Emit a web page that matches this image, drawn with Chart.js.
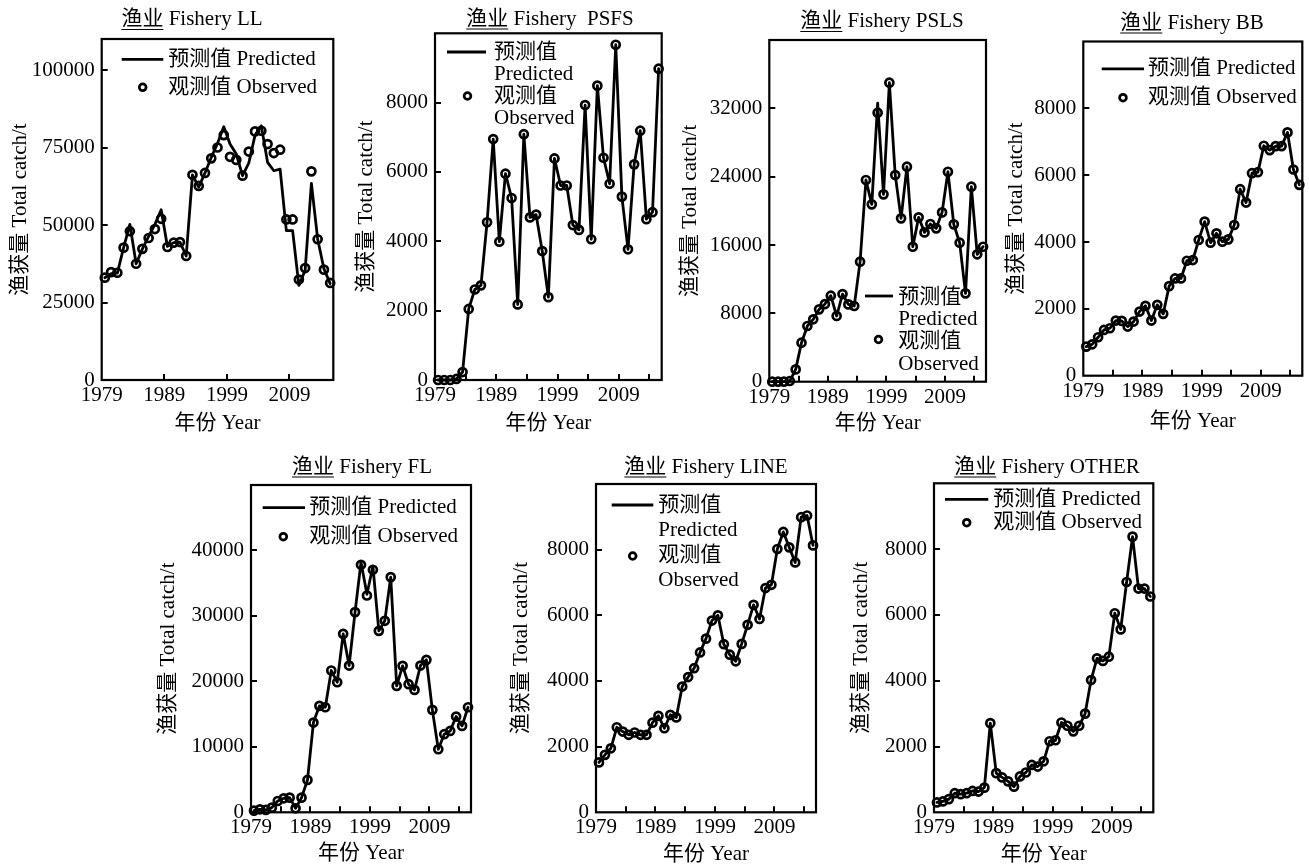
<!DOCTYPE html>
<html>
<head>
<meta charset="utf-8">
<script src="https://cdn.jsdelivr.net/npm/chart.js@4.4.1/dist/chart.umd.min.js"></script>
<style>
  html, body { margin: 0; padding: 0; background: #fff; }
  body { width: 1309px; height: 867px; position: relative; overflow: hidden; }
  .panel { position: absolute; }
  canvas { display: block; }
</style>
</head>
<body>
<script>
// ---------------- DATA ----------------
const years = [1979,1980,1981,1982,1983,1984,1985,1986,1987,1988,1989,1990,1991,1992,1993,1994,1995,1996,1997,1998,1999,2000,2001,2002,2003,2004,2005,2006,2007,2008,2009,2010,2011,2012,2013,2014,2015];
const xTickLabels = ['1979','1989','1999','2009'];
const xMinorTickYears = [1984,1994,2004,2014];

const llObserved  = [33000,34800,34600,42700,48000,37500,42300,45800,48700,52000,42900,44300,44500,40000,66200,62600,66800,71500,75000,79000,72000,71000,65900,73700,80200,80400,76100,73200,74300,51800,51800,32400,36100,67300,45400,35600,31300];
const llPredicted = [33000,34300,34500,42700,50200,37500,42300,46300,50200,54900,43100,44300,44500,40000,66200,62200,66800,71800,76300,81700,76100,72900,65900,70000,79000,82000,70200,67500,68000,48200,48200,30500,35400,63400,45500,35900,31100];
const llYTicks = [0,25000,50000,75000,100000];
const llYMax = 110000;

const psfsObserved  = [0,0,0,30,230,2050,2610,2730,4550,6950,3990,5950,5250,2180,7090,4690,4770,3720,2390,6390,5610,5610,4470,4330,7930,4060,8490,6410,5660,9670,5290,3770,6220,7190,4640,4840,8980];
const psfsPredicted = [0,0,0,30,230,2050,2610,2730,4550,6950,3990,5950,5250,2180,7090,4690,4770,3720,2390,6390,5610,5610,4470,4330,7930,4060,8490,6410,5660,9670,5290,3770,6220,7190,4640,4840,8980];
const psfsYTicks = [0,2000,4000,6000,8000];
const psfsYMax = 10000;

const pslsObserved  = [0,0,0,80,1440,4570,6520,7300,8470,9090,10070,7690,10260,9050,8860,14050,23610,20760,31490,21930,35000,24190,19120,25170,15800,19240,17480,18460,17950,19820,24580,18420,16270,10340,22830,14910,15800];
const pslsPredicted = [0,0,0,80,1440,4570,6520,7300,8470,9090,10070,7690,10260,9050,8860,14050,23610,20760,32600,21930,35000,24190,19120,25170,15800,19240,17480,18460,17950,19820,24580,18420,16270,10340,22830,14910,15800];
const pslsYTicks = [0,8000,16000,24000,32000];
const pslsYMax = 40000;

const bbObserved  = [870,940,1150,1370,1420,1650,1640,1470,1620,1920,2090,1650,2120,1850,2680,2910,2910,3440,3460,4060,4610,3980,4260,4010,4080,4510,5580,5180,6060,6090,6880,6750,6870,6870,7280,6170,5710];
const bbPredicted = [870,940,1150,1370,1420,1650,1640,1470,1620,1920,2090,1650,2120,1850,2680,2910,2910,3440,3460,4060,4610,3980,4260,4010,4080,4510,5580,5180,6060,6090,6880,6750,6870,6870,7280,6170,5710];
const bbYTicks = [0,2000,4000,6000,8000];
const bbYMax = 10000;

const flObserved  = [260,460,360,710,1730,2140,2240,610,2240,4940,13710,16260,16050,21660,19870,27260,22420,30580,37810,33120,37050,27720,29250,35930,19310,22370,19570,18700,22420,23290,15650,9630,11930,12430,14630,13200,16050];
const flPredicted = [260,460,360,710,1730,2140,2240,610,2240,4940,13710,16260,16050,21660,19870,27260,22420,30580,38200,33300,37600,27720,29250,35930,19310,22370,19570,18700,22420,23290,15650,9630,11930,12430,14630,13200,16050];
const flYTicks = [0,10000,20000,30000,40000];
const flYMax = 50000;

const lineObserved  = [1520,1750,1950,2590,2460,2360,2430,2360,2360,2730,2940,2560,2970,2890,3830,4120,4390,4870,5290,5840,6000,5120,4800,4600,5130,5710,6320,5890,6830,6930,8020,8540,8070,7610,8990,9040,8130];
const linePredicted = [1520,1750,1950,2590,2460,2360,2430,2360,2360,2730,2940,2560,2970,2890,3830,4120,4390,4870,5290,5840,6000,5120,4800,4600,5130,5710,6320,5890,6830,6930,8020,8540,8070,7610,8990,9040,8130];
const lineYTicks = [0,2000,4000,6000,8000];
const lineYMax = 10000;

const otherObserved  = [300,330,400,580,550,580,650,630,750,2710,1190,1060,940,780,1090,1210,1440,1390,1550,2160,2190,2730,2630,2460,2630,3000,4020,4680,4600,4730,6050,5560,7000,8380,6800,6800,6560];
const otherPredicted = [300,330,400,580,550,580,650,630,750,2710,1190,1060,940,780,1090,1210,1440,1390,1550,2160,2190,2730,2630,2460,2630,3000,4020,4680,4600,4730,6050,5560,7000,8380,6800,6800,6560];
const otherYTicks = [0,2000,4000,6000,8000];
const otherYMax = 10000;

const predictedLabel = '预测值 Predicted';
const observedLabel = '观测值 Observed';
const yAxisTitle = '渔获量 Total catch/t';
const xAxisTitle = '年份 Year';

// ---------------- LAYOUT ----------------
const FONT = '"Liberation Serif", "Times New Roman", "Noto Sans CJK SC", serif';
const FS = 21;
const LH = FS * 1.2;

const panels = [
  { title: ['渔业', ' Fishery LL'], obs: llObserved, pred: llPredicted, yTicks: llYTicks, yMax: llYMax, minor: false,
    box: {l: 0, t: 0, w: 340, h: 440}, plot: {l: 101.7, r: 333.3, t: 39, b: 380},
    titleXY: [192, 19.5], yTitleX: 20, xTitleY: 423,
    legend: {line: [121.7, 163.3, 59.3], marker: [142.7, 87.3], textX: 168.3,
             pred: [[predictedLabel, 59.3]], obs: [[observedLabel, 87.3]]} },
  { title: ['渔业', ' Fishery  PSFS'], obs: psfsObserved, pred: psfsPredicted, yTicks: psfsYTicks, yMax: psfsYMax, minor: true,
    box: {l: 340, t: 0, w: 330, h: 440}, plot: {l: 435, r: 661.7, t: 33.3, b: 380},
    titleXY: [550, 19], yTitleX: 366.7, xTitleY: 423,
    legend: {line: [447, 486, 52], marker: [467.5, 96], textX: 494,
             pred: [['预测值', 52], ['Predicted', 74]], obs: [['观测值', 96.5], ['Observed', 118.5]]} },
  { title: ['渔业', ' Fishery PSLS'], obs: pslsObserved, pred: pslsPredicted, yTicks: pslsYTicks, yMax: pslsYMax, minor: true,
    box: {l: 670, t: 0, w: 325, h: 440}, plot: {l: 769.3, r: 986, t: 40, b: 381.7},
    titleXY: [882, 21.5], yTitleX: 690.7, xTitleY: 423,
    legend: {line: [865, 893, 296], marker: [878.5, 339.5], textX: 898.3,
             pred: [['预测值', 297], ['Predicted', 319.5]], obs: [['观测值', 341.5], ['Observed', 364]]} },
  { title: ['渔业', ' Fishery BB'], obs: bbObserved, pred: bbPredicted, yTicks: bbYTicks, yMax: bbYMax, minor: true,
    box: {l: 995, t: 0, w: 314, h: 440}, plot: {l: 1083.3, r: 1304.3, t: 41.5, b: 375.7},
    titleXY: [1192, 23], yTitleX: 1016.7, xTitleY: 421.7,
    legend: {line: [1101.7, 1144, 68.8], marker: [1123, 97.7], textX: 1148,
             pred: [[predictedLabel, 68.8]], obs: [[observedLabel, 97.7]]} },
  { title: ['渔业', ' Fishery FL'], obs: flObserved, pred: flPredicted, yTicks: flYTicks, yMax: flYMax, minor: true,
    box: {l: 150, t: 440, w: 340, h: 427}, plot: {l: 251, r: 471, t: 485, b: 812.3},
    titleXY: [362, 467], yTitleX: 168.3, xTitleY: 853.3,
    legend: {line: [262.7, 305, 507.7], marker: [283.3, 536.7], textX: 309.3,
             pred: [[predictedLabel, 507.7]], obs: [[observedLabel, 536.7]]} },
  { title: ['渔业', ' Fishery LINE'], obs: lineObserved, pred: linePredicted, yTicks: lineYTicks, yMax: lineYMax, minor: true,
    box: {l: 490, t: 440, w: 340, h: 427}, plot: {l: 596, r: 816, t: 484, b: 812.3},
    titleXY: [706, 467], yTitleX: 521.7, xTitleY: 855,
    legend: {line: [611.7, 653.3, 505], marker: [632.7, 556], textX: 658.3,
             pred: [['预测值', 505], ['Predicted', 530]], obs: [['观测值', 555], ['Observed', 580]]} },
  { title: ['渔业', ' Fishery OTHER'], obs: otherObserved, pred: otherPredicted, yTicks: otherYTicks, yMax: otherYMax, minor: true,
    box: {l: 830, t: 440, w: 340, h: 427}, plot: {l: 934, r: 1153.3, t: 483.3, b: 812.3},
    titleXY: [1047, 467], yTitleX: 861.7, xTitleY: 855,
    legend: {line: [945, 988.3, 499.3], marker: [966.7, 522.7], textX: 993.3,
             pred: [[predictedLabel, 499.3]], obs: [[observedLabel, 522.7]]} }
];

Chart.defaults.font.family = FONT;
Chart.defaults.font.size = FS;
Chart.defaults.color = '#000';

const decorPlugin = {
  id: 'decor',
  afterDraw(chart, args, opts) {
    const p = opts.panel;
    const ctx = chart.ctx;
    const ca = chart.chartArea;
    const xs = chart.scales.x, ys = chart.scales.y;
    const ox = p.box.l, oy = p.box.t;
    ctx.save();
    ctx.strokeStyle = '#000';
    ctx.fillStyle = '#000';
    // inward tick marks
    ctx.lineWidth = 2;
    const xt = xTickLabels.map(Number).concat(p.minor ? xMinorTickYears : []);
    xt.forEach(v => {
      const px = Math.round(xs.getPixelForValue(v));
      if (px <= ca.left + 1) return;
      ctx.beginPath(); ctx.moveTo(px, ca.bottom); ctx.lineTo(px, ca.bottom - 6); ctx.stroke();
    });
    p.yTicks.forEach(v => {
      const py = Math.round(ys.getPixelForValue(v));
      if (py >= ca.bottom - 1) return;
      ctx.beginPath(); ctx.moveTo(ca.left, py); ctx.lineTo(ca.left + 6, py); ctx.stroke();
    });
    // frame
    ctx.lineWidth = 2.2;
    ctx.strokeRect(ca.left, ca.top, ca.right - ca.left, ca.bottom - ca.top);
    // title with underlined Chinese part
    ctx.font = FS + 'px ' + FONT;
    ctx.textBaseline = 'middle';
    ctx.textAlign = 'left';
    const full = p.title[0] + p.title[1];
    const w = ctx.measureText(full).width;
    const w0 = ctx.measureText(p.title[0]).width;
    const tx = p.titleXY[0] - ox - w / 2, ty = p.titleXY[1] - oy;
    ctx.fillText(full, tx, ty);
    ctx.lineWidth = 1.2;
    ctx.beginPath(); ctx.moveTo(tx, ty + 10); ctx.lineTo(tx + w0, ty + 10); ctx.stroke();
    // legend
    const lg = p.legend;
    const predDs = chart.data.datasets[1], obsDs = chart.data.datasets[0];
    ctx.lineWidth = predDs.borderWidth;
    ctx.strokeStyle = predDs.borderColor;
    ctx.beginPath(); ctx.moveTo(lg.line[0] - ox, lg.line[2] - oy); ctx.lineTo(lg.line[1] - ox, lg.line[2] - oy); ctx.stroke();
    ctx.lineWidth = obsDs.pointBorderWidth;
    ctx.strokeStyle = obsDs.pointBorderColor;
    ctx.beginPath(); ctx.arc(lg.marker[0] - ox, lg.marker[1] - oy, obsDs.pointRadius - 0.6, 0, Math.PI * 2); ctx.stroke();
    lg.pred.concat(lg.obs).forEach(([t, y]) => { ctx.fillText(t, lg.textX - ox, y - oy); });
    ctx.restore();
  }
};

panels.forEach((p, idx) => {
  const div = document.createElement('div');
  div.className = 'panel';
  div.style.left = p.box.l + 'px'; div.style.top = p.box.t + 'px';
  div.style.width = p.box.w + 'px'; div.style.height = p.box.h + 'px';
  const cv = document.createElement('canvas');
  cv.width = p.box.w; cv.height = p.box.h;
  cv.style.width = p.box.w + 'px'; cv.style.height = p.box.h + 'px';
  div.appendChild(cv);
  document.body.appendChild(div);

  const W = p.plot.l - p.box.l;
  const H = p.box.t + p.box.h - p.plot.b;
  const padTop = p.plot.t - p.box.t;
  const padRight = p.box.l + p.box.w - p.plot.r;
  const yTitlePad = Math.max(0, p.yTitleX - p.box.l - LH / 2);
  const xTitlePad = Math.max(0, p.box.t + p.box.h - p.xTitleY - LH / 2);
  const xTickValues = xTickLabels.map(Number).concat(p.minor ? xMinorTickYears : []).sort((a, b) => a - b);

  new Chart(cv, {
    type: 'line',
    data: {
      datasets: [
        { label: observedLabel, data: years.map((yr, i) => ({x: yr + 0.5, y: p.obs[i]})),
          showLine: false, pointRadius: 4, pointBorderWidth: 2.7, pointBorderColor: '#000',
          pointBackgroundColor: 'rgba(0,0,0,0)', borderColor: '#000', clip: false },
        { label: predictedLabel, data: years.map((yr, i) => ({x: yr + 0.5, y: p.pred[i]})),
          borderColor: '#000', borderWidth: 2.8, borderJoinStyle: 'round', borderCapStyle: 'round',
          pointRadius: 0, tension: 0, fill: false, clip: false }
      ]
    },
    options: {
      responsive: false, animation: false, devicePixelRatio: 1,
      layout: { padding: { top: padTop, right: padRight, left: 0, bottom: 0 } },
      plugins: { legend: { display: false }, tooltip: { enabled: false }, title: { display: false },
                 decor: { panel: p } },
      scales: {
        x: {
          type: 'linear', min: 1979, max: 2016,
          grid: { display: false, drawTicks: false }, border: { display: false },
          afterBuildTicks: s => { s.ticks = xTickValues.map(v => ({ value: v })); },
          ticks: { autoSkip: false, maxRotation: 0, padding: 3, color: '#000', font: { size: FS },
                   callback: v => xTickLabels.includes(String(v)) ? String(v) : '' },
          title: { display: true, text: xAxisTitle, color: '#000', font: { size: FS }, padding: { top: 0, bottom: xTitlePad } },
          afterFit: s => { s.height = H; }
        },
        y: {
          type: 'linear', min: 0, max: p.yMax,
          grid: { display: false, drawTicks: false }, border: { display: false },
          afterBuildTicks: s => { s.ticks = p.yTicks.map(v => ({ value: v })); },
          ticks: { padding: 7, color: '#000', font: { size: FS }, callback: v => String(v) },
          title: { display: true, text: yAxisTitle, color: '#000', font: { size: FS }, padding: { top: yTitlePad, bottom: 0 } },
          afterFit: s => { s.width = W; }
        }
      }
    },
    plugins: [decorPlugin]
  });
});
</script>
</body>
</html>
